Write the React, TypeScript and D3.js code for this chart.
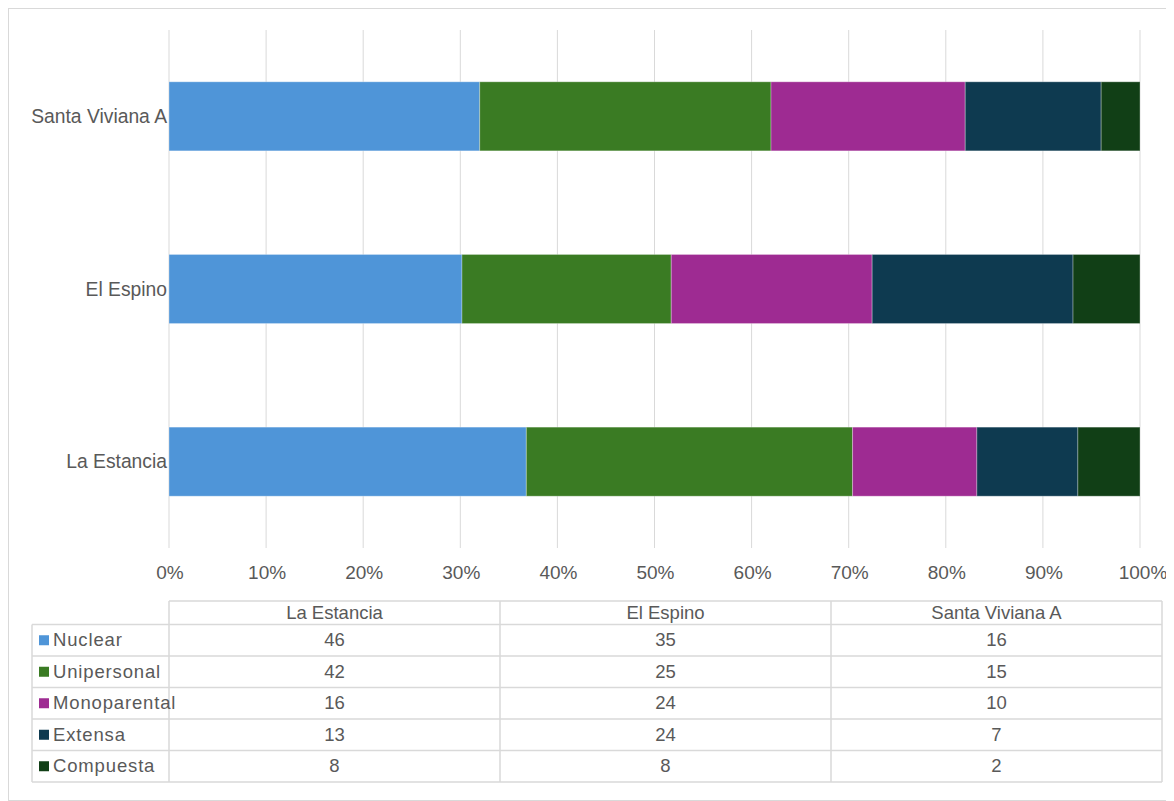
import React from "react";
import * as d3 from "d3";

const categories = ["La Estancia", "El Espino", "Santa Viviana A"];
const seriesNames = ["Nuclear", "Unipersonal", "Monoparental", "Extensa", "Compuesta"];
const nuclear = [46, 35, 16];
const unipersonal = [42, 25, 15];
const monoparental = [16, 24, 10];
const extensa = [13, 24, 7];
const compuesta = [8, 8, 2];
const seriesColors = ["#4F95D8", "#3A7B23", "#9E2B92", "#0E3A50", "#113F16"];
const tickValues = [0, 0.1, 0.2, 0.3, 0.4, 0.5, 0.6, 0.7, 0.8, 0.9, 1];

const seriesValues = [nuclear, unipersonal, monoparental, extensa, compuesta];

const W = 1166;
const H = 793;
const FONT = "'Liberation Sans', Arial, sans-serif";
const TEXT = "#595959";
const GRID = "#D9D9D9";

export default function App() {
  const ox = -8, oy = -8;
  const x = d3.scaleLinear().domain([0, 1]).range([169 + ox, 1140 + ox]);
  const y = d3
    .scaleBand<string>()
    .domain([...categories].reverse())
    .range([30 + oy, 548 + oy])
    .paddingInner(0.6)
    .paddingOuter(0.3);

  const rows = categories.map((c, i) => {
    const r: any = { cat: c };
    seriesNames.forEach((s, j) => (r[s] = seriesValues[j][i]));
    return r;
  });
  const stacked = d3.stack<any>().keys(seriesNames).offset(d3.stackOffsetExpand)(rows);

  const tLeft = 32 + ox;
  const tColStart = 169 + ox;
  const tRight = 1162 + ox;
  const colW = (tRight - tColStart) / categories.length;
  const tTop = 601 + oy;
  const headerBottom = 624.5 + oy;
  const rowH = (782 + oy - headerBottom) / seriesNames.length;

  return (
    <svg width={W} height={H} style={{ display: "block" }} fontFamily={FONT}>
      <rect x={0.5} y={0.5} width={W - 1} height={H - 1} fill="#fff" stroke={GRID} strokeWidth={1} />
      {tickValues.map((t) => (
        <line key={t} x1={x(t)} x2={x(t)} y1={30 + oy} y2={548 + oy} stroke={GRID} strokeWidth={1} />
      ))}
      {stacked.map((layer, j) => (
        <g key={layer.key} fill={seriesColors[j]}>
          {layer.map((d, i) => (
            <rect
              key={i}
              x={x(d[0])}
              width={x(d[1]) - x(d[0])}
              y={y(categories[i])}
              height={y.bandwidth()}
              stroke="#ffffff"
              strokeOpacity={0.3}
              strokeWidth={1}
            />
          ))}
        </g>
      ))}
      {tickValues.map((t) => (
        <text key={t} x={x(t) + (t === 1 ? 3 : 1)} y={579 + oy} textAnchor="middle" fontSize={19} fill={TEXT}>
          {d3.format(".0%")(t)}
        </text>
      ))}
      {categories.map((c) => (
        <text
          key={c}
          x={167 + ox}
          y={(y(c) as number) + y.bandwidth() / 2 + 6.5}
          textAnchor="end"
          fontSize={19.3}
          fill={TEXT}
        >
          {c}
        </text>
      ))}
      <g stroke={GRID} strokeWidth={1.5} fill="none">
        <line x1={tColStart} x2={tRight} y1={tTop} y2={tTop} />
        {d3.range(seriesNames.length + 1).map((k) => (
          <line key={k} x1={tLeft} x2={tRight} y1={headerBottom + k * rowH} y2={headerBottom + k * rowH} />
        ))}
        <line x1={tLeft} x2={tLeft} y1={headerBottom} y2={headerBottom + seriesNames.length * rowH} />
        {d3.range(categories.length + 1).map((k) => (
          <line
            key={k}
            x1={tColStart + k * colW}
            x2={tColStart + k * colW}
            y1={tTop}
            y2={headerBottom + seriesNames.length * rowH}
          />
        ))}
      </g>
      {categories.map((c, i) => (
        <text
          key={c}
          x={tColStart + (i + 0.5) * colW}
          y={(tTop + headerBottom) / 2 + 6.5}
          textAnchor="middle"
          fontSize={18.5}
          fill={TEXT}
        >
          {c}
        </text>
      ))}
      {seriesNames.map((s, j) => {
        const cy = headerBottom + (j + 0.5) * rowH;
        return (
          <g key={s}>
            <rect x={39 + ox} y={cy - 5} width={10} height={10} fill={seriesColors[j]} />
            <text x={53 + ox} y={cy + 6} fontSize={18.5} fill={TEXT} letterSpacing={0.85}>
              {s}
            </text>
            {categories.map((c, i) => (
              <text
                key={c}
                x={tColStart + (i + 0.5) * colW}
                y={cy + 6}
                textAnchor="middle"
                fontSize={18.5}
                fill={TEXT}
              >
                {seriesValues[j][i]}
              </text>
            ))}
          </g>
        );
      })}
    </svg>
  );
}
